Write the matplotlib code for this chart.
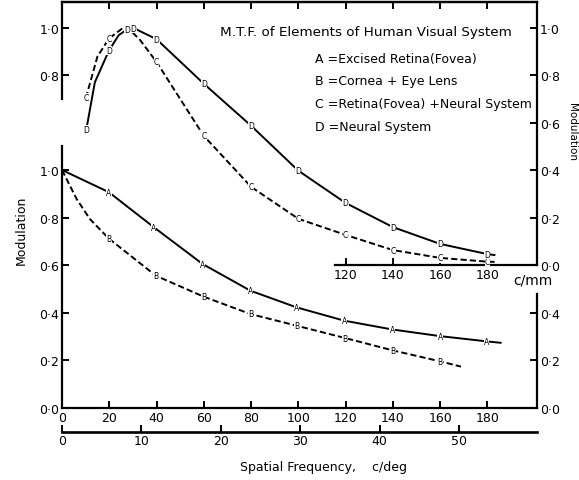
import matplotlib
matplotlib.use("Agg")
import matplotlib.pyplot as plt

# Data (x in c/mm, y = modulation)
# lower panel: A = excised retina, B = cornea + eye lens
a_x = [0, 19.8, 38.8, 59.5, 79.7, 99.2, 119.4, 139.7, 160, 179.7, 185.6]
a_y = [1.0, 0.907, 0.76, 0.605, 0.493, 0.423, 0.367, 0.33, 0.302, 0.28, 0.274]
a_marks = [1, 2, 3, 4, 5, 6, 7, 8, 9]

b_x = [0, 6.2, 11.8, 19.8, 39.7, 59.9, 79.7, 99.2, 119.8, 140, 160, 168.8]
b_y = [1.0, 0.878, 0.794, 0.712, 0.556, 0.468, 0.395, 0.346, 0.294, 0.242, 0.196, 0.174]
b_marks = [3, 4, 5, 6, 7, 8, 9, 10]

# upper panel: C = retina + neural system, D = neural system
c_x = [10.1, 15, 19.9, 25.2, 28, 33, 40, 60, 80, 100, 120, 140, 160, 180, 184]
c_y = [0.705, 0.88, 0.956, 0.996, 1.0, 0.95, 0.857, 0.545, 0.33, 0.195, 0.127, 0.063, 0.03, 0.014, 0.013]
c_marks = [0, 2, 6, 7, 8, 9, 10, 11, 12, 13]

d_x = [10.3, 13.9, 19.9, 24, 27.7, 30.3, 40, 60, 80, 100, 120, 140, 160, 180, 183]
d_y = [0.572, 0.771, 0.906, 0.97, 0.995, 1.0, 0.953, 0.765, 0.588, 0.398, 0.262, 0.16, 0.089, 0.046, 0.042]
d_marks = [0, 2, 4, 5, 6, 7, 8, 9, 10, 11, 12, 13]

legend_lines = ["A =Excised Retina(Fovea)",
                "B =Cornea + Eye Lens",
                "C =Retina(Fovea) +Neural System",
                "D =Neural System"]

lo_yticks = [0.0, 0.2, 0.4, 0.6, 0.8, 1.0]
lo_right_yticks = [0.0, 0.2, 0.4]
up_left_yticks = [0.8, 1.0]
up_right_yticks = [0.0, 0.2, 0.4, 0.6, 0.8, 1.0]
mm_ticks = [0, 20, 40, 60, 80, 100, 120, 140, 160, 180]
up_mm_ticks = [120, 140, 160, 180]
deg_ticks = [0, 10, 20, 30, 40, 50]
MM_PER_DEG = 3.36


def fmt(v):
    return f"{v:.1f}".replace(".", "\u00b7")


W, H = 579, 481
fig = plt.figure(figsize=(W / 100, H / 100), dpi=100)


def add_px_axes(x0, x1, y_top, y_bot):
    return fig.add_axes([x0 / W, 1 - y_bot / H, (x1 - x0) / W, (y_bot - y_top) / H])


def letter_marks(axis, lab, xs, ys, idx):
    for i in idx:
        axis.text(xs[i], ys[i], lab, fontsize=5.5, ha="center", va="center",
                  bbox=dict(facecolor="white", edgecolor="none", pad=0.1))


lw = 1.4
dash = (0, (3.2, 1.6))
fs = 9

# ---- lower panel
ax = add_px_axes(62, 537, 409 - 1.1 * 238, 409)
ax.set_xlim(0, 201)
ax.set_ylim(0, 1.1)
ax.plot(a_x, a_y, color="black", lw=lw)
ax.plot(b_x, b_y, color="black", lw=lw, linestyle=dash)
letter_marks(ax, "A", a_x, a_y, a_marks)
letter_marks(ax, "B", b_x, b_y, b_marks)
ax.spines["top"].set_visible(False)
ax.spines["right"].set_bounds(0, 0.48)
for s in ax.spines.values():
    s.set_linewidth(1.6)
ax.set_xticks(mm_ticks)
ax.set_xticklabels([str(t) for t in mm_ticks], fontsize=fs)
ax.set_yticks(lo_yticks)
ax.set_yticklabels([fmt(t) for t in lo_yticks], fontsize=fs)
ax.tick_params(direction="in", length=5, width=1.4, pad=2)

axr = ax.twinx()
axr.set_ylim(0, 1.1)
axr.set_yticks(lo_right_yticks)
axr.set_yticklabels([fmt(t) for t in lo_right_yticks], fontsize=fs)
axr.tick_params(direction="in", length=5, width=1.4, pad=2)
for s in axr.spines.values():
    s.set_visible(False)

secax = ax.secondary_xaxis(-0.09, functions=(lambda x: x / MM_PER_DEG, lambda x: x * MM_PER_DEG))
secax.set_xticks(deg_ticks)
secax.set_xticklabels([str(t) for t in deg_ticks], fontsize=fs)
secax.tick_params(direction="in", length=5, width=1.4, pad=2)
secax.spines["bottom"].set_linewidth(1.9)

fig.text(323 / W, 1 - 468 / H, "Spatial Frequency,    c/deg", fontsize=fs,
         ha="center", va="center")
fig.text(21 / W, 1 - 230 / H, "Modulation", fontsize=fs, rotation=90,
         ha="center", va="center")

# ---- upper panel
up = add_px_axes(62, 537, 3, 266)
up.set_facecolor("none")
up.set_xlim(0, 201)
up.set_ylim(0, 1.11)
up.plot(c_x, c_y, color="black", lw=lw, linestyle=dash)
up.plot(d_x, d_y, color="black", lw=lw)
letter_marks(up, "C", c_x, c_y, c_marks)
letter_marks(up, "D", d_x, d_y, d_marks)
up.spines["left"].set_bounds(0.70, 1.11)
up.spines["bottom"].set_bounds(115.4, 201)
for s in up.spines.values():
    s.set_linewidth(1.6)
up.set_xticks(up_mm_ticks)
up.set_xticklabels([str(t) for t in up_mm_ticks], fontsize=fs)
up.set_yticks(up_left_yticks)
up.set_yticklabels([fmt(t) for t in up_left_yticks], fontsize=fs)
up.tick_params(direction="in", length=5, width=1.4, pad=2)
# top ticks without labels at every 20 c/mm
top = up.secondary_xaxis("top")
top.set_xticks(mm_ticks[1:])
top.set_xticklabels([])
top.tick_params(direction="in", length=5, width=1.4)
top.spines["top"].set_linewidth(1.6)

upr = up.twinx()
upr.set_ylim(0, 1.11)
upr.set_yticks(up_right_yticks)
upr.set_yticklabels([fmt(t) for t in up_right_yticks], fontsize=fs)
upr.tick_params(direction="in", length=5, width=1.4, pad=2)
for s in upr.spines.values():
    s.set_visible(False)

up.text(191, -0.06, "c/mm", fontsize=fs + 1, ha="left", va="center", clip_on=False)
fig.text(572 / W, 1 - 132 / H, "Modulation", fontsize=fs - 1.5, rotation=270,
         ha="center", va="center")

# title + key
fig.text(220 / W, 1 - 33 / H, "M.T.F. of Elements of Human Visual System",
         fontsize=fs + 0.7, ha="left", va="center")
for i, line in enumerate(legend_lines):
    fig.text(315 / W, 1 - (59 + 23 * i) / H, line, fontsize=fs,
             ha="left", va="center")

fig.savefig("out.png", dpi=100)
